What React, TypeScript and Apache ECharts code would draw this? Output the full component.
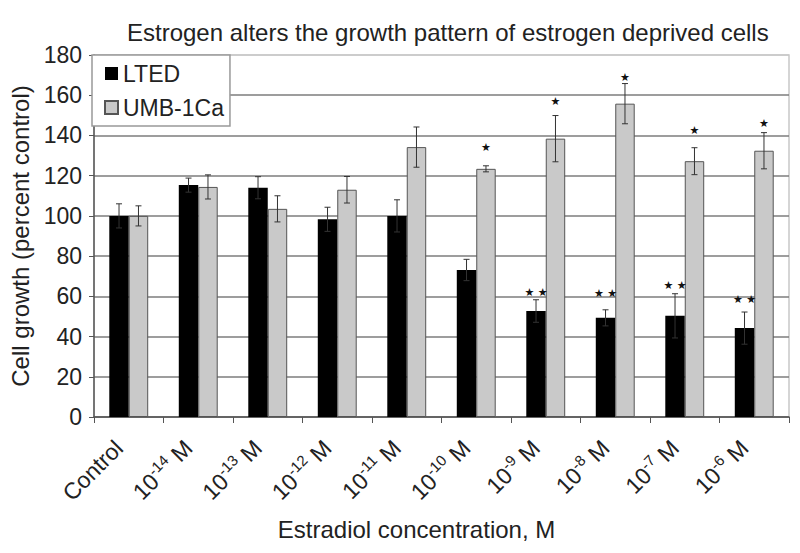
import React, { useEffect, useRef } from "react";
import * as echarts from "echarts";

const categories = ["Control", "10^-14 M", "10^-13 M", "10^-12 M", "10^-11 M", "10^-10 M", "10^-9 M", "10^-8 M", "10^-7 M", "10^-6 M"];
const ltedValues = [100, 115.3, 114, 98.3, 100, 73.1, 52.7, 49.3, 50.3, 44.2];
const ltedErrors = [6, 3.5, 5.5, 6, 8, 5.3, 5.6, 4, 11, 8];
const umbValues = [100, 114.4, 103.5, 113, 134.2, 123.4, 138.4, 155.8, 127.2, 132.4];
const umbErrors = [5, 6, 6.5, 6.6, 10, 1.5, 11.5, 10, 6.7, 9];
const ltedStars = ["", "", "", "", "", "", "**", "**", "**", "**"];
const ltedStarAt = [0, 0, 0, 0, 0, 0, 61.8, 61.6, 65.6, 58.3];
const umbStars = ["", "", "", "", "", "*", "*", "*", "*", "*"];
const umbStarAt = [0, 0, 0, 0, 0, 134, 157, 169, 142.4, 145.8];
const yTicks = { min: 0, max: 180, interval: 20 };

const FONT = "Liberation Sans, Arial, sans-serif";
const TEXT = "#222";
const GRID = "#7c7c7c";
const CAT_GAP = 0.44;

function makeErrRender(values: number[], errors: number[], sign: number, stars: string[], starAt: number[]) {
  return (params: any, api: any) => {
    const i = api.value(0);
    const v = api.value(1);
    const e = api.value(2);
    const band = api.size([1, 0])[0];
    const barW = (band * (1 - CAT_GAP)) / 2;
    const cx = api.coord([i, v])[0] + (sign * barW) / 2;
    const yTop = api.coord([i, v + e])[1];
    const yBot = api.coord([i, v - e])[1];
    const cap = 3;
    const st = { stroke: "#333", lineWidth: 1 };
    const children: any[] = [
      { type: "line", shape: { x1: cx, y1: yTop, x2: cx, y2: yBot }, style: st },
      { type: "line", shape: { x1: cx - cap, y1: yTop, x2: cx + cap, y2: yTop }, style: st },
      { type: "line", shape: { x1: cx - cap, y1: yBot, x2: cx + cap, y2: yBot }, style: st },
    ];
    if (stars[i]) {
      const sy = api.coord([i, starAt[i]])[1];
      children.push({
        type: "text",
        style: {
          text: stars[i] === "**" ? "★ ★" : "★",
          x: cx,
          y: sy,
          align: "center",
          verticalAlign: "middle",
          fontSize: 11,
          fontFamily: "DejaVu Sans",
          fill: "#111",
        },
      });
    }
    return { type: "group", children };
  };
}

export default function App() {
  const ref = useRef<HTMLDivElement>(null);
  useEffect(() => {
    document.body.style.margin = "0";
    const chart = echarts.init(ref.current!, null, { renderer: "svg" });
    const splitColors = Array.from({ length: 10 }, (_, k) => (k === 9 ? "#c8c8c8" : GRID));
    chart.setOption({
      animation: false,
      backgroundColor: "#fff",
      title: {
        text: "Estrogen alters the growth pattern of estrogen deprived cells",
        left: 122,
        top: 15,
        textStyle: { fontSize: 24, fontWeight: "normal", color: TEXT, fontFamily: FONT },
      },
      legend: {
        orient: "vertical",
        left: 92,
        top: 55,
        padding: [7, 6, 7, 12],
        itemGap: 11,
        itemWidth: 13,
        itemHeight: 13,
        icon: "rect",
        backgroundColor: "#fff",
        borderColor: "#999",
        borderWidth: 1.5,
        textStyle: { fontSize: 23, color: TEXT, fontFamily: FONT },
        data: ["LTED", "UMB-1Ca"],
      },
      grid: {
        left: 94,
        right: 11,
        top: 55,
        bottom: 136,
        show: true,
        borderColor: "#c8c8c8",
        borderWidth: 1.5,
      },
      xAxis: {
        type: "category",
        data: categories,
        name: "Estradiol concentration, M",
        nameLocation: "middle",
        nameGap: 100,
        nameTextStyle: { fontSize: 24, color: TEXT, fontFamily: FONT, padding: [0, 50, 0, 0] },
        axisLine: { lineStyle: { color: "#555", width: 1.5 } },
        axisTick: { show: true, length: 6, lineStyle: { color: "#555" } },
        axisLabel: {
          rotate: 45,
          interval: 0,
          margin: 37,
          fontSize: 23,
          lineHeight: 28,
          verticalAlign: "bottom",
          color: TEXT,
          fontFamily: FONT,
          formatter: (val: string) => val.replace(/\^(-?\d+)/, "{sup|$1}"),
          rich: {
            sup: { fontSize: 15, lineHeight: 15, verticalAlign: "top", color: TEXT, fontFamily: FONT },
          },
        },
      },
      yAxis: {
        type: "value",
        min: yTicks.min,
        max: yTicks.max,
        interval: yTicks.interval,
        name: "Cell growth (percent control)",
        nameLocation: "middle",
        nameGap: 59,
        nameTextStyle: { fontSize: 24, color: TEXT, fontFamily: FONT },
        axisLine: { show: true, lineStyle: { color: "#555", width: 1.5 } },
        axisTick: { show: true, length: 5, lineStyle: { color: "#555" } },
        axisLabel: { fontSize: 23, color: TEXT, fontFamily: FONT, margin: 12 },
        splitLine: { show: true, lineStyle: { color: splitColors, width: 1.5 } },
      },
      series: [
        {
          name: "LTED",
          type: "bar",
          data: ltedValues,
          barGap: "0%",
          barCategoryGap: CAT_GAP * 100 + "%",
          itemStyle: { color: "#000", borderColor: "#000", borderWidth: 0 },
        },
        {
          name: "UMB-1Ca",
          type: "bar",
          data: umbValues,
          barGap: "0%",
          barCategoryGap: CAT_GAP * 100 + "%",
          itemStyle: { color: "#c9c9c9", borderColor: "#555", borderWidth: 1 },
        },
        {
          type: "custom",
          z: 5,
          clip: false,
          renderItem: makeErrRender(ltedValues, ltedErrors, -1, ltedStars, ltedStarAt),
          encode: { x: 0, y: 1 },
          data: ltedValues.map((v, i) => [i, v, ltedErrors[i]]),
        },
        {
          type: "custom",
          z: 5,
          clip: false,
          renderItem: makeErrRender(umbValues, umbErrors, 1, umbStars, umbStarAt),
          encode: { x: 0, y: 1 },
          data: umbValues.map((v, i) => [i, v, umbErrors[i]]),
        },
      ],
    });
    return () => chart.dispose();
  }, []);
  return <div ref={ref} style={{ width: 800, height: 553 }} />;
}
